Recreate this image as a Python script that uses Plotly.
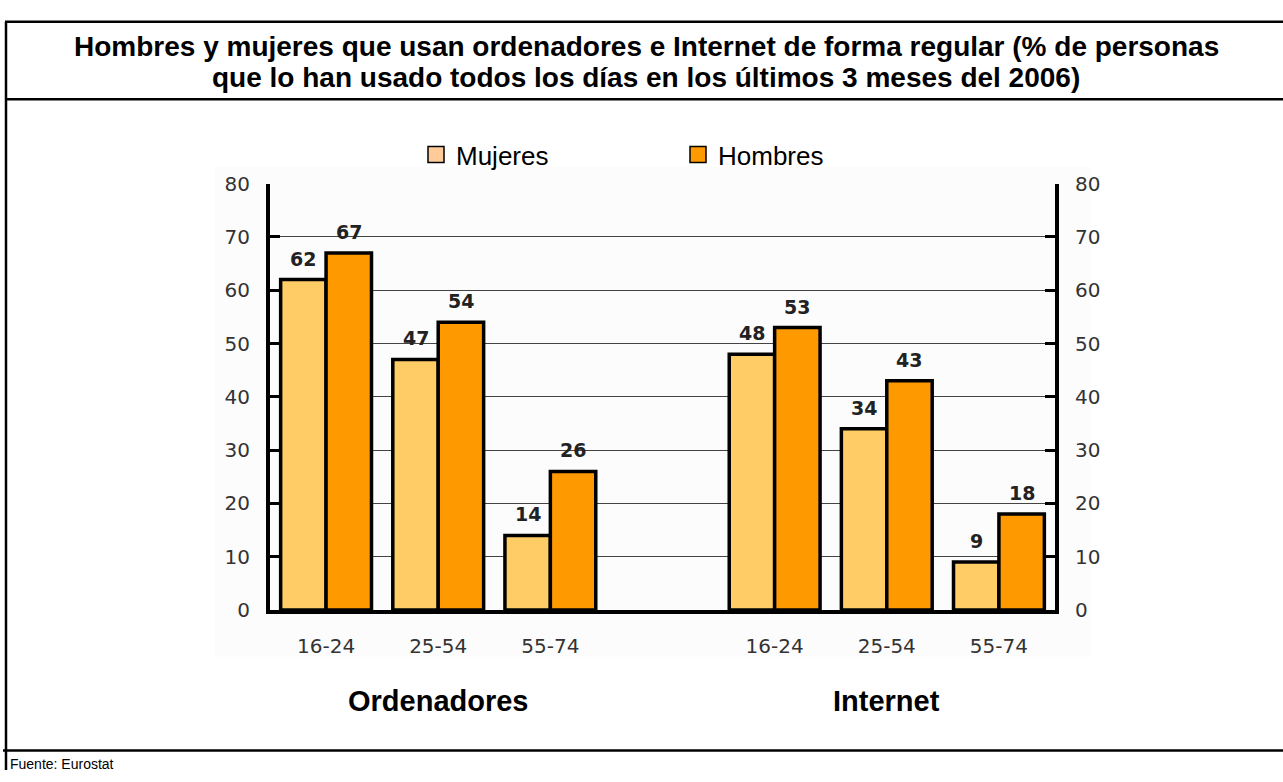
import plotly.graph_objects as go

# ---- data ----
title_lines = ["Hombres y mujeres que usan ordenadores e Internet de forma regular (% de personas",
               "que lo han usado todos los días en los últimos 3 meses del 2006)"]
groups = ["Ordenadores", "Internet"]
ages = ["16-24", "25-54", "55-74"]
mujeres = {"Ordenadores": [62, 47, 14], "Internet": [48, 34, 9]}
hombres = {"Ordenadores": [67, 54, 26], "Internet": [53, 43, 18]}
y_ticks = [0, 10, 20, 30, 40, 50, 60, 70, 80]
source = "Fuente: Eurostat"

W, H = 1283, 782
C_MUJ = "#FFCC66"
C_HOM = "#FF9900"
C_MUJ_LEG = "#FFCC99"
ARIAL = "Liberation Sans, Arial"

step = len(ages) + 1
xs, ticktext, muj_vals, hom_vals = [], [], [], []
for g_i, g in enumerate(groups):
    for a_i, a in enumerate(ages):
        xs.append(g_i * step + a_i)
        ticktext.append(a)
        muj_vals.append(mujeres[g][a_i])
        hom_vals.append(hombres[g][a_i])
n_slots = len(groups) * step - 1

def px_x(p):
    return p / W

def px_y(p):
    return 1 - p / H

fig = go.Figure()
bar_line = dict(color="black", width=3.5)
fig.add_trace(go.Bar(x=xs, y=muj_vals, name="Mujeres", marker=dict(color=C_MUJ, line=bar_line),
                     showlegend=False, hoverinfo="skip"))
fig.add_trace(go.Bar(x=xs, y=hom_vals, name="Hombres", marker=dict(color=C_HOM, line=bar_line),
                     showlegend=False, hoverinfo="skip"))
for nm, col in (("Mujeres", C_MUJ_LEG), ("Hombres", C_HOM)):
    fig.add_trace(go.Scatter(x=[None], y=[None], name=nm, mode="markers",
                             marker=dict(symbol="square", size=16, color=col,
                                         line=dict(color="black", width=1.5))))
fig.add_trace(go.Scatter(x=[xs[0]], y=[0], yaxis="y2", mode="markers",
                         marker=dict(opacity=0), showlegend=False, hoverinfo="skip"))

bargap = 0.19
half = (1 - bargap) / 4
annotations = []
for x, m, h in zip(xs, muj_vals, hom_vals):
    for dx, v in ((-half, m), (half, h)):
        annotations.append(dict(x=x + dx, y=v, xref="x", yref="y", text=f"<b>{v}</b>",
                                showarrow=False, yanchor="bottom", yshift=8,
                                font=dict(family="DejaVu Sans", size=19, color="#222222")))
for g_i, g in enumerate(groups):
    annotations.append(dict(x=g_i * step + (len(ages) - 1) / 2, y=px_y(711), xref="x", yref="paper",
                            text=f"<b>{g}</b>", showarrow=False, yanchor="middle",
                            font=dict(family=ARIAL, size=29, color="black")))
for line, yc in zip(title_lines, (36, 68)):
    annotations.append(dict(x=px_x(646), y=px_y(yc), xref="paper", yref="paper", text=f"<b>{line}</b>",
                            showarrow=False, xanchor="center", yanchor="middle",
                            font=dict(family=ARIAL, size=28, color="black")))
annotations.append(dict(x=px_x(8), y=px_y(776), xref="paper", yref="paper", text=source,
                        showarrow=False, xanchor="left", yanchor="middle",
                        font=dict(family=ARIAL, size=14, color="black")))

shapes = [
    dict(type="rect", xref="paper", yref="paper", x0=px_x(215), x1=px_x(1090), y0=px_y(665), y1=px_y(160),
         fillcolor="#FCFCFC", line=dict(width=0), layer="below"),
    dict(type="line", xref="paper", yref="paper", x0=px_x(5), x1=1, y0=px_y(10), y1=px_y(10),
         line=dict(color="black", width=2.5)),
    dict(type="line", xref="paper", yref="paper", x0=px_x(6), x1=px_x(6), y0=px_y(10), y1=0,
         line=dict(color="black", width=2.5)),
    dict(type="line", xref="paper", yref="paper", x0=px_x(5), x1=1, y0=px_y(90), y1=px_y(90),
         line=dict(color="black", width=2.5)),
    dict(type="line", xref="paper", yref="paper", x0=px_x(3), x1=1, y0=px_y(762), y1=px_y(762),
         line=dict(color="black", width=2.5)),
]

tickfont = dict(family="DejaVu Sans", size=20, color="#333333")
yaxis_common = dict(range=[0, 80], tickvals=y_ticks, showline=True, linecolor="black", linewidth=4,
                    ticks="inside", ticklen=10, tickwidth=3, tickcolor="black",
                    tickfont=tickfont, ticklabelstandoff=12, zeroline=False, fixedrange=True,
                    domain=[px_y(617), px_y(177)])
fig.update_layout(
    width=W, height=H,
    margin=dict(l=0, r=0, t=0, b=0),
    paper_bgcolor="white", plot_bgcolor="#FCFCFC",
    barmode="group", bargap=bargap, bargroupgap=0,
    xaxis=dict(range=[-0.5, n_slots - 0.5], tickvals=xs, ticktext=ticktext, tickfont=tickfont,
               showline=True, linecolor="black", linewidth=4, ticks="", showgrid=False,
               zeroline=False, domain=[px_x(270), px_x(1055)], ticklabelstandoff=15, fixedrange=True),
    yaxis=dict(showgrid=True, gridcolor="#444444", gridwidth=1, side="left", **yaxis_common),
    yaxis2=dict(overlaying="y", side="right", showgrid=False, **yaxis_common),
    legend=dict(orientation="h", x=px_x(416), y=px_y(147), xanchor="left", yanchor="middle",
                font=dict(family=ARIAL, size=26, color="black"),
                entrywidth=217, entrywidthmode="pixels", bgcolor="rgba(0,0,0,0)", traceorder="normal"),
    annotations=annotations,
    shapes=shapes,
)

fig.write_html("out.html", config={"displayModeBar": False, "staticPlot": True},
               post_script="document.body.style.margin='0';document.body.style.overflow='hidden';")
